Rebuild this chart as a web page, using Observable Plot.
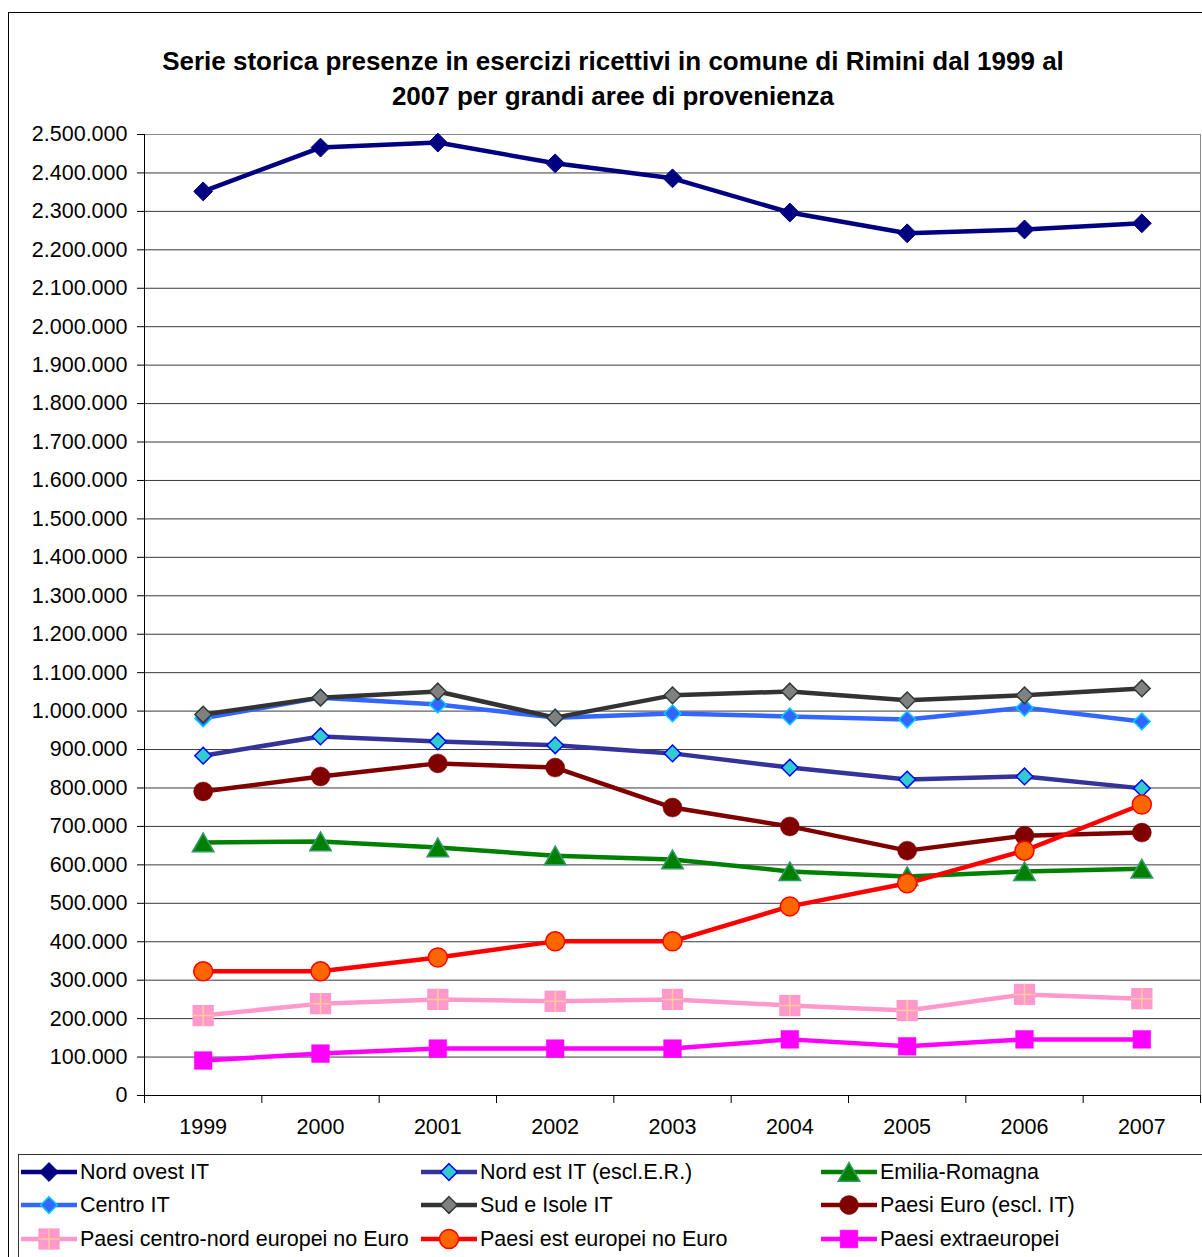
<!DOCTYPE html>
<html><head><meta charset="utf-8">
<script src="https://cdn.jsdelivr.net/npm/d3@7"></script>
<script src="https://cdn.jsdelivr.net/npm/@observablehq/plot@0.6"></script>
<style>
body{margin:0;background:#fff;font-family:"Liberation Sans",Arial,sans-serif;}
#wrap{position:relative;width:1202px;height:1257px;overflow:hidden;background:#fff;}
#outer{position:absolute;left:8px;top:12px;width:1300px;height:1300px;border:1px solid #000;box-sizing:border-box;}
#title{position:absolute;left:0;width:1226px;top:44px;text-align:center;font-weight:bold;font-size:26px;line-height:35px;color:#000}
#chart{position:absolute;left:0;top:0}
#legend{position:absolute;left:18px;top:1154px;width:1300px;height:200px;border:1px solid #333;box-sizing:border-box;background:#fff}
.item{position:absolute;height:30px;display:flex;align-items:center;font-size:21.5px;white-space:nowrap;color:#000}
.item svg{margin-right:3px;display:block}
</style>
</head><body>
<div id="wrap">
  <div id="outer"></div>
  <div id="chart"></div>
  <div id="title">Serie storica presenze in esercizi ricettivi in comune di Rimini dal 1999 al<br>2007 per grandi aree di provenienza</div>
  <div id="legend"></div>
</div>
<script>
// ---- data ----
const years = [1999, 2000, 2001, 2002, 2003, 2004, 2005, 2006, 2007];
const seriesNames = [
  "Nord ovest IT", "Nord est IT (escl.E.R.)", "Emilia-Romagna",
  "Centro IT", "Sud e Isole IT", "Paesi Euro (escl. IT)",
  "Paesi centro-nord europei no Euro", "Paesi est europei no Euro", "Paesi extraeuropei"
];
const nordOvest    = [2352000, 2466000, 2479000, 2425000, 2386000, 2297000, 2243000, 2253000, 2269000];
const nordEst      = [884000, 934000, 921000, 911000, 890000, 853000, 822000, 830000, 799000];
const emilia       = [658000, 661000, 645000, 624000, 614000, 583000, 570000, 583000, 590000];
const centro       = [981000, 1035000, 1017000, 983000, 994000, 986000, 978000, 1009000, 973000];
const sud          = [991000, 1035000, 1051000, 983000, 1041000, 1051000, 1028000, 1041000, 1059000];
const paesiEuro    = [791000, 830000, 864000, 853000, 749000, 700000, 637000, 676000, 684000];
const centroNord   = [208000, 239000, 250000, 245000, 250000, 234000, 221000, 263000, 252000];
const estEuropei   = [323000, 323000, 359000, 401000, 401000, 492000, 552000, 637000, 757000];
const extraeuropei = [91000, 109000, 122000, 122000, 122000, 146000, 128000, 146000, 146000];
const yTicks = d3.range(0, 2500001, 100000);

// ---- styles ----
const styles = [
  {values: nordOvest,    line: "#000080", symbol: "diamond2", r: 8.5, fill: "#000080", stroke: "#000080", sw: 1},
  {values: nordEst,      line: "#333399", symbol: "diamond2", r: 7.5, fill: "#33CCCC", stroke: "#0000FF", sw: 1.5},
  {values: emilia,       line: "#008000", symbol: "triangle", r: 8,   fill: "#008000", stroke: "#339966", sw: 1.5, dy: 3},
  {values: centro,       line: "#3366FF", symbol: "diamond2", r: 7.5, fill: "#3366FF", stroke: "#00CCFF", sw: 1.5},
  {values: sud,          line: "#333333", symbol: "diamond2", r: 7.5, fill: "#808080", stroke: "#303838", sw: 1.5},
  {values: paesiEuro,    line: "#800000", symbol: "circle",   r: 9.5, fill: "#800000", stroke: "#800000", sw: 0.5},
  {values: centroNord,   line: "#FF99CC", symbol: "square",   r: 12,  fill: "#FF99CC", stroke: "none", sw: 0, plus: "#FFCC99"},
  {values: estEuropei,   line: "#FF0000", symbol: "circle",   r: 9.5, fill: "#FF6600", stroke: "#FF0000", sw: 1.5},
  {values: extraeuropei, line: "#FF00FF", symbol: "square",   r: 10,  fill: "#FF00FF", stroke: "#FF00FF", sw: 0.5}
];

const fmt = d3.formatLocale({decimal: ",", thousands: ".", grouping: [3], currency: ["", ""]}).format(",");

const seriesMarks = [];
styles.forEach((s, k) => {
  const rows = years.map((y, i) => ({name: seriesNames[k], year: y, value: s.values[i]}));
  seriesMarks.push(Plot.line(rows, {x: "year", y: "value", stroke: s.line, strokeWidth: 4.5, strokeLinejoin: "round"}));
  seriesMarks.push(Plot.dot(rows, {x: "year", y: "value", symbol: s.symbol, r: s.r, fill: s.fill,
    stroke: s.stroke, strokeWidth: s.sw, dy: s.dy || 0}));
  if (s.plus) seriesMarks.push(Plot.dot(rows, {x: "year", y: "value", symbol: "plus", r: 7, stroke: s.plus, strokeWidth: 1.5}));
});

const bounds = d3.range(1998.5, 2008, 1);

const chart = Plot.plot({
  width: 1202,
  height: 1150,
  marginLeft: 144,
  marginRight: 2,
  marginTop: 134,
  marginBottom: 55,
  style: {fontFamily: "Liberation Sans, Arial, sans-serif", fontSize: "21.5px", color: "#000", background: "transparent"},
  x: {domain: [1998.5, 2007.5]},
  y: {domain: [0, 2500000]},
  marks: [
    Plot.gridY(yTicks, {stroke: "#3a3a3a", strokeOpacity: 1, strokeWidth: 1}),
    Plot.frame({stroke: "#8a8a8a"}),
    Plot.axisY({ticks: yTicks, tickSize: 7, tickPadding: 10, tickFormat: fmt, label: null, fontSize: 21.5}),
    Plot.axisX({ticks: bounds, tickSize: 8, tickFormat: () => "", label: null}),
    Plot.axisX({ticks: years, tickSize: 0, tickPadding: 23, tickFormat: d => String(d), label: null, fontSize: 21.5}),
    Plot.ruleX([1998.5], {stroke: "#000", strokeWidth: 1}),
    Plot.ruleY([0], {stroke: "#000", strokeWidth: 1}),
    ...seriesMarks
  ]
});
document.getElementById("chart").appendChild(chart);

// ---- legend ----
const legend = document.getElementById("legend");
styles.forEach((s, k) => {
  const col = k % 3, row = Math.floor(k / 3);
  const item = document.createElement("div");
  item.className = "item";
  item.style.left = (2 + col * 400) + "px";
  item.style.top = ([2, 35, 69][row]) + "px";
  const svg = d3.create("svg").attr("width", 56).attr("height", 30);
  svg.append("line").attr("x1", 0).attr("x2", 56).attr("y1", 15).attr("y2", 15)
    .attr("stroke", s.line).attr("stroke-width", 4.5);
  const symMap = {diamond2: d3.symbolDiamond2, triangle: d3.symbolTriangle, circle: d3.symbolCircle, square: d3.symbolSquare};
  svg.append("path").attr("d", d3.symbol(symMap[s.symbol], Math.PI * s.r * s.r)())
    .attr("transform", `translate(28,${15 + (s.dy || 0)})`)
    .attr("fill", s.fill).attr("stroke", s.stroke).attr("stroke-width", s.sw);
  if (s.plus) svg.append("path").attr("d", d3.symbol(d3.symbolPlus, Math.PI * 49)())
    .attr("transform", "translate(28,15)").attr("fill", "none").attr("stroke", s.plus).attr("stroke-width", 1.5);
  item.appendChild(svg.node());
  const t = document.createElement("span");
  t.textContent = seriesNames[k];
  item.appendChild(t);
  legend.appendChild(item);
});
</script>
</body></html>
